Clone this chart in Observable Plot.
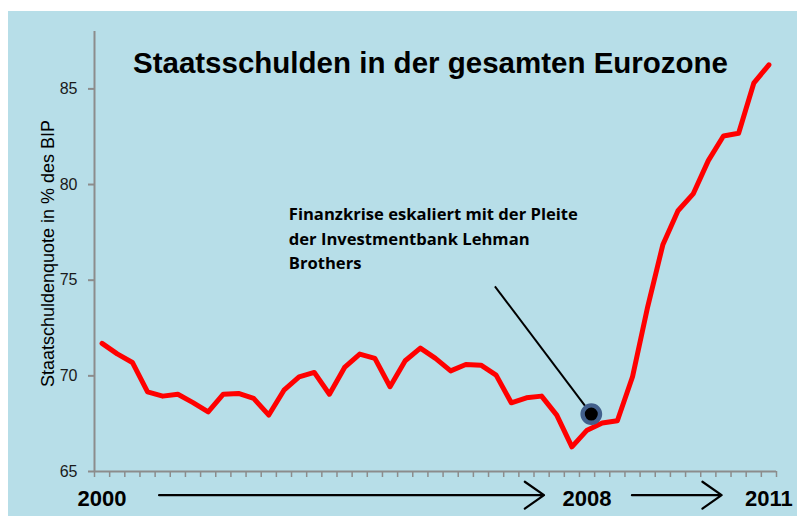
<!DOCTYPE html>
<html>
<head>
<meta charset="utf-8">
<script src="https://cdn.jsdelivr.net/npm/d3@7"></script>
<script src="https://cdn.jsdelivr.net/npm/@observablehq/plot@0.6"></script>
<style>
  html, body { margin: 0; padding: 0; background: #ffffff; }
  #chart { position: absolute; left: 8px; top: 11px; }
</style>
</head>
<body>
<div id="chart"></div>
<script>
// Quarterly debt ratio of the euro area, 2000 Q1 – 2011 Q1 (% of GDP)
const startYear = 2000;
const debtValues = [
  71.70, 71.15, 70.70, 69.16, 68.94, 69.04, 68.60, 68.12, 69.04, 69.08,
  68.82, 67.95, 69.25, 69.95, 70.18, 69.04, 70.44, 71.14, 70.91, 69.43,
  70.79, 71.45, 70.91, 70.26, 70.59, 70.56, 70.04, 68.59, 68.85, 68.94,
  67.95, 66.29, 67.16, 67.54, 67.65, 69.95, 73.61, 76.85, 78.63, 79.51,
  81.25, 82.54, 82.68, 85.30, 86.26
];
const yTicks = [65, 70, 75, 80, 85];
const yearLabels = [2000, 2008, 2011];
const titleText = "Staatsschulden in der gesamten Eurozone";
const yLabelText = "Staatschuldenquote in % des BIP";
const annotationLines = ["Finanzkrise eskaliert mit der Pleite", "der Investmentbank Lehman", "Brothers"];
const lehmanPoint = [{t: 2008.07, value: 68.0}];
const annotationAnchor = [{t: 2003.08, value: 79.05}];
const leaderStart = [{t: 2006.48, value: 74.68}];
const timeArrows = [
  {t1: 2000.94, t2: 2007.29, level: 63.76},
  {t1: 2008.74, t2: 2010.22, level: 63.76}
];

// quarter positions (time in years)
const data = debtValues.map((v, i) => ({t: startYear + i / 4, value: v}));
const xMin = startYear - 0.125;
const xMax = startYear + (debtValues.length - 1) / 4 + 0.125;
const quarterBounds = d3.range(debtValues.length + 1).map(k => xMin + k * 0.25);

const grey = "#8c8c8c";
const sans = "'Liberation Sans', Arial, sans-serif";

const plot = Plot.plot({
  width: 789,
  height: 505,
  marginLeft: 86,
  marginRight: 21,
  marginTop: 20,
  marginBottom: 45,
  style: {background: "#b7dee8", fontFamily: sans, overflow: "visible", color: "#1a1a1a"},
  x: {domain: [xMin, xMax], axis: null},
  y: {domain: [65, 88], axis: null},
  marks: [
    // y axis
    Plot.axisY(yTicks, {tickSize: 6, tickPadding: 11, fontSize: 16, stroke: grey, strokeWidth: 2, fill: "#1a1a1a"}),
    Plot.ruleX([xMin], {stroke: grey, strokeWidth: 2}),
    // x axis (quarter tick marks)
    Plot.axisX(quarterBounds, {tickSize: 6, tickFormat: () => "", stroke: grey, strokeWidth: 1.5}),
    Plot.ruleY([65], {stroke: grey, strokeWidth: 2}),
    // year labels
    Plot.axisX(yearLabels, {tickSize: 0, tickPadding: 19, fontSize: 22, fontWeight: "bold", fill: "#000",
      fontFamily: "'Liberation Sans Narrow', 'Liberation Sans', Arial, sans-serif", tickFormat: d => String(d)}),
    // time arrows
    Plot.arrow(timeArrows, {x1: "t1", x2: "t2", y1: "level", y2: "level", stroke: "#000", strokeWidth: 2.2,
      headLength: 16, headAngle: 70, clip: false}),
    // data line
    Plot.line(data, {x: "t", y: "value", stroke: "#ff0000", strokeWidth: 5, strokeLinejoin: "round", strokeLinecap: "round"}),
    // annotation
    Plot.link(leaderStart.map((d, i) => ({x1: d.t, y1: d.value, x2: lehmanPoint[i].t, y2: lehmanPoint[i].value})),
      {x1: "x1", y1: "y1", x2: "x2", y2: "y2", stroke: "#000", strokeWidth: 2}),
    Plot.dot(lehmanPoint, {x: "t", y: "value", r: 8.7, fill: "#000", stroke: "#42608c", strokeWidth: 4.4}),
    Plot.text(annotationAnchor, {x: "t", y: "value", text: () => annotationLines.join("\n"), textAnchor: "start",
      lineAnchor: "top", lineHeight: 1.48, fontSize: 16.6, fontWeight: "bold", fontFamily: "'Open Sans', Lato, sans-serif", fill: "#000"}),
    // title
    Plot.text([titleText], {text: d => d, frameAnchor: "top", lineAnchor: "top", dy: 21, dx: -5,
      fontSize: 29.5, fontWeight: "bold", fill: "#000"}),
    // y label
    Plot.text([yLabelText], {text: d => d, frameAnchor: "left", rotate: -90, textAnchor: "middle", dx: -46, dy: 2,
      fontSize: 18, fill: "#000"})
  ]
});
document.getElementById("chart").appendChild(plot);
</script>
</body>
</html>
